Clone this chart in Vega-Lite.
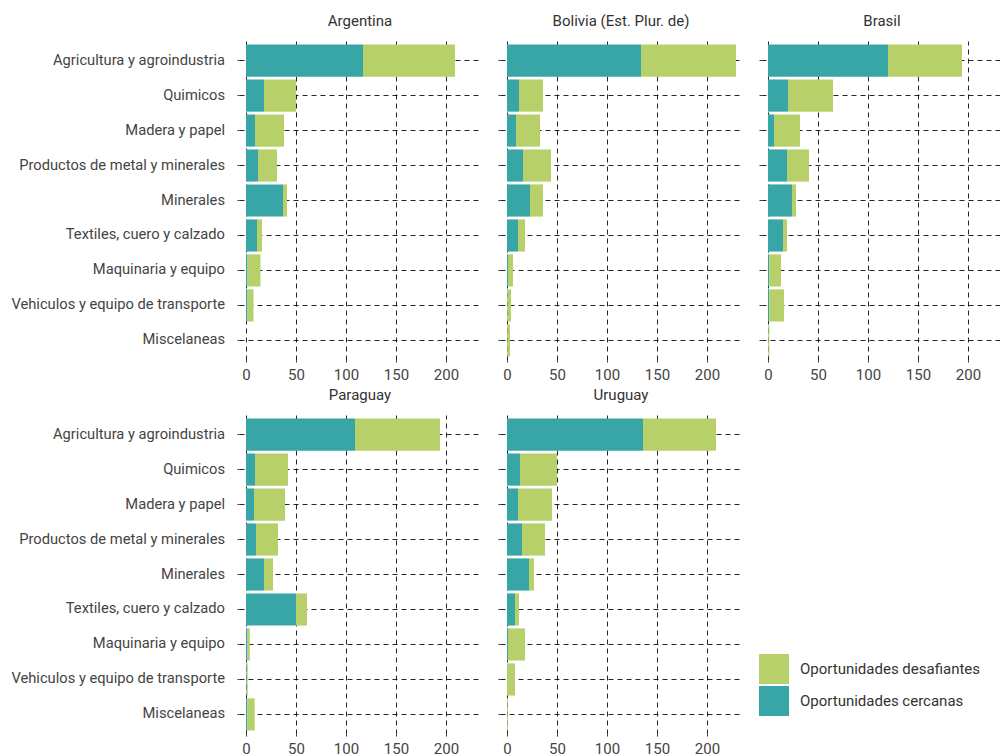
{
  "$schema": "https://vega.github.io/schema/vega-lite/v6.json",
  "padding": {"left": 10, "top": 14, "right": 0, "bottom": 0},
  "background": "white",
  "datasets": {
    "d": [
      {"pais": "Argentina", "sector": "Agricultura y agroindustria", "serie": "Oportunidades cercanas", "valor": 117},
      {"pais": "Argentina", "sector": "Agricultura y agroindustria", "serie": "Oportunidades desafiantes", "valor": 92},
      {"pais": "Argentina", "sector": "Quimicos", "serie": "Oportunidades cercanas", "valor": 18},
      {"pais": "Argentina", "sector": "Quimicos", "serie": "Oportunidades desafiantes", "valor": 32},
      {"pais": "Argentina", "sector": "Madera y papel", "serie": "Oportunidades cercanas", "valor": 9},
      {"pais": "Argentina", "sector": "Madera y papel", "serie": "Oportunidades desafiantes", "valor": 29},
      {"pais": "Argentina", "sector": "Productos de metal y minerales", "serie": "Oportunidades cercanas", "valor": 12},
      {"pais": "Argentina", "sector": "Productos de metal y minerales", "serie": "Oportunidades desafiantes", "valor": 19},
      {"pais": "Argentina", "sector": "Minerales", "serie": "Oportunidades cercanas", "valor": 37},
      {"pais": "Argentina", "sector": "Minerales", "serie": "Oportunidades desafiantes", "valor": 4},
      {"pais": "Argentina", "sector": "Textiles, cuero y calzado", "serie": "Oportunidades cercanas", "valor": 11},
      {"pais": "Argentina", "sector": "Textiles, cuero y calzado", "serie": "Oportunidades desafiantes", "valor": 5},
      {"pais": "Argentina", "sector": "Maquinaria y equipo", "serie": "Oportunidades cercanas", "valor": 1.5},
      {"pais": "Argentina", "sector": "Maquinaria y equipo", "serie": "Oportunidades desafiantes", "valor": 13},
      {"pais": "Argentina", "sector": "Vehiculos y equipo de transporte", "serie": "Oportunidades cercanas", "valor": 1.5},
      {"pais": "Argentina", "sector": "Vehiculos y equipo de transporte", "serie": "Oportunidades desafiantes", "valor": 6},
      {"pais": "Argentina", "sector": "Miscelaneas", "serie": "Oportunidades cercanas", "valor": 0},
      {"pais": "Argentina", "sector": "Miscelaneas", "serie": "Oportunidades desafiantes", "valor": 0},

      {"pais": "Bolivia", "sector": "Agricultura y agroindustria", "serie": "Oportunidades cercanas", "valor": 134},
      {"pais": "Bolivia", "sector": "Agricultura y agroindustria", "serie": "Oportunidades desafiantes", "valor": 95},
      {"pais": "Bolivia", "sector": "Quimicos", "serie": "Oportunidades cercanas", "valor": 12},
      {"pais": "Bolivia", "sector": "Quimicos", "serie": "Oportunidades desafiantes", "valor": 24},
      {"pais": "Bolivia", "sector": "Madera y papel", "serie": "Oportunidades cercanas", "valor": 9},
      {"pais": "Bolivia", "sector": "Madera y papel", "serie": "Oportunidades desafiantes", "valor": 24},
      {"pais": "Bolivia", "sector": "Productos de metal y minerales", "serie": "Oportunidades cercanas", "valor": 16},
      {"pais": "Bolivia", "sector": "Productos de metal y minerales", "serie": "Oportunidades desafiantes", "valor": 28},
      {"pais": "Bolivia", "sector": "Minerales", "serie": "Oportunidades cercanas", "valor": 23},
      {"pais": "Bolivia", "sector": "Minerales", "serie": "Oportunidades desafiantes", "valor": 13},
      {"pais": "Bolivia", "sector": "Textiles, cuero y calzado", "serie": "Oportunidades cercanas", "valor": 11},
      {"pais": "Bolivia", "sector": "Textiles, cuero y calzado", "serie": "Oportunidades desafiantes", "valor": 7},
      {"pais": "Bolivia", "sector": "Maquinaria y equipo", "serie": "Oportunidades cercanas", "valor": 1},
      {"pais": "Bolivia", "sector": "Maquinaria y equipo", "serie": "Oportunidades desafiantes", "valor": 5},
      {"pais": "Bolivia", "sector": "Vehiculos y equipo de transporte", "serie": "Oportunidades cercanas", "valor": 0.3},
      {"pais": "Bolivia", "sector": "Vehiculos y equipo de transporte", "serie": "Oportunidades desafiantes", "valor": 3.7},
      {"pais": "Bolivia", "sector": "Miscelaneas", "serie": "Oportunidades cercanas", "valor": 0.3},
      {"pais": "Bolivia", "sector": "Miscelaneas", "serie": "Oportunidades desafiantes", "valor": 2.7},

      {"pais": "Brasil", "sector": "Agricultura y agroindustria", "serie": "Oportunidades cercanas", "valor": 120},
      {"pais": "Brasil", "sector": "Agricultura y agroindustria", "serie": "Oportunidades desafiantes", "valor": 74},
      {"pais": "Brasil", "sector": "Quimicos", "serie": "Oportunidades cercanas", "valor": 20},
      {"pais": "Brasil", "sector": "Quimicos", "serie": "Oportunidades desafiantes", "valor": 45},
      {"pais": "Brasil", "sector": "Madera y papel", "serie": "Oportunidades cercanas", "valor": 6},
      {"pais": "Brasil", "sector": "Madera y papel", "serie": "Oportunidades desafiantes", "valor": 26},
      {"pais": "Brasil", "sector": "Productos de metal y minerales", "serie": "Oportunidades cercanas", "valor": 19},
      {"pais": "Brasil", "sector": "Productos de metal y minerales", "serie": "Oportunidades desafiantes", "valor": 22},
      {"pais": "Brasil", "sector": "Minerales", "serie": "Oportunidades cercanas", "valor": 24},
      {"pais": "Brasil", "sector": "Minerales", "serie": "Oportunidades desafiantes", "valor": 4},
      {"pais": "Brasil", "sector": "Textiles, cuero y calzado", "serie": "Oportunidades cercanas", "valor": 15},
      {"pais": "Brasil", "sector": "Textiles, cuero y calzado", "serie": "Oportunidades desafiantes", "valor": 4},
      {"pais": "Brasil", "sector": "Maquinaria y equipo", "serie": "Oportunidades cercanas", "valor": 1.3},
      {"pais": "Brasil", "sector": "Maquinaria y equipo", "serie": "Oportunidades desafiantes", "valor": 11.7},
      {"pais": "Brasil", "sector": "Vehiculos y equipo de transporte", "serie": "Oportunidades cercanas", "valor": 1.3},
      {"pais": "Brasil", "sector": "Vehiculos y equipo de transporte", "serie": "Oportunidades desafiantes", "valor": 14.7},
      {"pais": "Brasil", "sector": "Miscelaneas", "serie": "Oportunidades cercanas", "valor": 0.3},
      {"pais": "Brasil", "sector": "Miscelaneas", "serie": "Oportunidades desafiantes", "valor": 1},

      {"pais": "Paraguay", "sector": "Agricultura y agroindustria", "serie": "Oportunidades cercanas", "valor": 109},
      {"pais": "Paraguay", "sector": "Agricultura y agroindustria", "serie": "Oportunidades desafiantes", "valor": 85},
      {"pais": "Paraguay", "sector": "Quimicos", "serie": "Oportunidades cercanas", "valor": 9},
      {"pais": "Paraguay", "sector": "Quimicos", "serie": "Oportunidades desafiantes", "valor": 33},
      {"pais": "Paraguay", "sector": "Madera y papel", "serie": "Oportunidades cercanas", "valor": 8},
      {"pais": "Paraguay", "sector": "Madera y papel", "serie": "Oportunidades desafiantes", "valor": 31},
      {"pais": "Paraguay", "sector": "Productos de metal y minerales", "serie": "Oportunidades cercanas", "valor": 10},
      {"pais": "Paraguay", "sector": "Productos de metal y minerales", "serie": "Oportunidades desafiantes", "valor": 22},
      {"pais": "Paraguay", "sector": "Minerales", "serie": "Oportunidades cercanas", "valor": 18},
      {"pais": "Paraguay", "sector": "Minerales", "serie": "Oportunidades desafiantes", "valor": 9},
      {"pais": "Paraguay", "sector": "Textiles, cuero y calzado", "serie": "Oportunidades cercanas", "valor": 50},
      {"pais": "Paraguay", "sector": "Textiles, cuero y calzado", "serie": "Oportunidades desafiantes", "valor": 11},
      {"pais": "Paraguay", "sector": "Maquinaria y equipo", "serie": "Oportunidades cercanas", "valor": 1.5},
      {"pais": "Paraguay", "sector": "Maquinaria y equipo", "serie": "Oportunidades desafiantes", "valor": 2.3},
      {"pais": "Paraguay", "sector": "Vehiculos y equipo de transporte", "serie": "Oportunidades cercanas", "valor": 0.7},
      {"pais": "Paraguay", "sector": "Vehiculos y equipo de transporte", "serie": "Oportunidades desafiantes", "valor": 1},
      {"pais": "Paraguay", "sector": "Miscelaneas", "serie": "Oportunidades cercanas", "valor": 1.4},
      {"pais": "Paraguay", "sector": "Miscelaneas", "serie": "Oportunidades desafiantes", "valor": 7.3},

      {"pais": "Uruguay", "sector": "Agricultura y agroindustria", "serie": "Oportunidades cercanas", "valor": 136},
      {"pais": "Uruguay", "sector": "Agricultura y agroindustria", "serie": "Oportunidades desafiantes", "valor": 73},
      {"pais": "Uruguay", "sector": "Quimicos", "serie": "Oportunidades cercanas", "valor": 13},
      {"pais": "Uruguay", "sector": "Quimicos", "serie": "Oportunidades desafiantes", "valor": 37},
      {"pais": "Uruguay", "sector": "Madera y papel", "serie": "Oportunidades cercanas", "valor": 11},
      {"pais": "Uruguay", "sector": "Madera y papel", "serie": "Oportunidades desafiantes", "valor": 34},
      {"pais": "Uruguay", "sector": "Productos de metal y minerales", "serie": "Oportunidades cercanas", "valor": 15},
      {"pais": "Uruguay", "sector": "Productos de metal y minerales", "serie": "Oportunidades desafiantes", "valor": 23},
      {"pais": "Uruguay", "sector": "Minerales", "serie": "Oportunidades cercanas", "valor": 22},
      {"pais": "Uruguay", "sector": "Minerales", "serie": "Oportunidades desafiantes", "valor": 5},
      {"pais": "Uruguay", "sector": "Textiles, cuero y calzado", "serie": "Oportunidades cercanas", "valor": 8},
      {"pais": "Uruguay", "sector": "Textiles, cuero y calzado", "serie": "Oportunidades desafiantes", "valor": 4},
      {"pais": "Uruguay", "sector": "Maquinaria y equipo", "serie": "Oportunidades cercanas", "valor": 1},
      {"pais": "Uruguay", "sector": "Maquinaria y equipo", "serie": "Oportunidades desafiantes", "valor": 17},
      {"pais": "Uruguay", "sector": "Vehiculos y equipo de transporte", "serie": "Oportunidades cercanas", "valor": 0},
      {"pais": "Uruguay", "sector": "Vehiculos y equipo de transporte", "serie": "Oportunidades desafiantes", "valor": 8},
      {"pais": "Uruguay", "sector": "Miscelaneas", "serie": "Oportunidades cercanas", "valor": 0.3},
      {"pais": "Uruguay", "sector": "Miscelaneas", "serie": "Oportunidades desafiantes", "valor": 0.7}
    ]
  },
  "vconcat": [
    {
      "hconcat": [
        {
          "width": 242, "height": 319,
          "title": "Argentina",
          "data": {"name": "d"},
          "transform": [{"filter": "datum.pais == 'Argentina'"}],
          "mark": "bar",
          "encoding": {
            "y": {"field": "sector", "type": "nominal", "title": null, "sort": ["Agricultura y agroindustria", "Quimicos", "Madera y papel", "Productos de metal y minerales", "Minerales", "Textiles, cuero y calzado", "Maquinaria y equipo", "Vehiculos y equipo de transporte", "Miscelaneas"], "scale": {"paddingInner": 0.08, "paddingOuter": 0.1}, "axis": {"labels": true}},
            "x": {"field": "valor", "type": "quantitative", "title": null, "scale": {"domain": [-7, 235], "nice": false}},
            "color": {"field": "serie", "type": "nominal", "title": null, "scale": {"domain": ["Oportunidades desafiantes", "Oportunidades cercanas"], "range": ["#B8D06A", "#38A5A7"]}},
            "order": {"field": "serie", "sort": "ascending"}
          }
        },
        {
          "width": 242, "height": 319,
          "title": "Bolivia (Est. Plur. de)",
          "data": {"name": "d"},
          "transform": [{"filter": "datum.pais == 'Bolivia'"}],
          "mark": "bar",
          "encoding": {
            "y": {"field": "sector", "type": "nominal", "title": null, "sort": ["Agricultura y agroindustria", "Quimicos", "Madera y papel", "Productos de metal y minerales", "Minerales", "Textiles, cuero y calzado", "Maquinaria y equipo", "Vehiculos y equipo de transporte", "Miscelaneas"], "scale": {"paddingInner": 0.08, "paddingOuter": 0.1}, "axis": {"labels": false}},
            "x": {"field": "valor", "type": "quantitative", "title": null, "scale": {"domain": [-7, 235], "nice": false}},
            "color": {"field": "serie", "type": "nominal", "title": null, "scale": {"domain": ["Oportunidades desafiantes", "Oportunidades cercanas"], "range": ["#B8D06A", "#38A5A7"]}},
            "order": {"field": "serie", "sort": "ascending"}
          }
        },
        {
          "width": 242, "height": 319,
          "title": "Brasil",
          "data": {"name": "d"},
          "transform": [{"filter": "datum.pais == 'Brasil'"}],
          "mark": "bar",
          "encoding": {
            "y": {"field": "sector", "type": "nominal", "title": null, "sort": ["Agricultura y agroindustria", "Quimicos", "Madera y papel", "Productos de metal y minerales", "Minerales", "Textiles, cuero y calzado", "Maquinaria y equipo", "Vehiculos y equipo de transporte", "Miscelaneas"], "scale": {"paddingInner": 0.08, "paddingOuter": 0.1}, "axis": {"labels": false}},
            "x": {"field": "valor", "type": "quantitative", "title": null, "scale": {"domain": [-7, 235], "nice": false}},
            "color": {"field": "serie", "type": "nominal", "title": null, "scale": {"domain": ["Oportunidades desafiantes", "Oportunidades cercanas"], "range": ["#B8D06A", "#38A5A7"]}},
            "order": {"field": "serie", "sort": "ascending"}
          }
        }
      ]
    },
    {
      "hconcat": [
        {
          "width": 242, "height": 319,
          "title": "Paraguay",
          "data": {"name": "d"},
          "transform": [{"filter": "datum.pais == 'Paraguay'"}],
          "mark": "bar",
          "encoding": {
            "y": {"field": "sector", "type": "nominal", "title": null, "sort": ["Agricultura y agroindustria", "Quimicos", "Madera y papel", "Productos de metal y minerales", "Minerales", "Textiles, cuero y calzado", "Maquinaria y equipo", "Vehiculos y equipo de transporte", "Miscelaneas"], "scale": {"paddingInner": 0.08, "paddingOuter": 0.1}, "axis": {"labels": true}},
            "x": {"field": "valor", "type": "quantitative", "title": null, "scale": {"domain": [-7, 235], "nice": false}},
            "color": {"field": "serie", "type": "nominal", "title": null, "scale": {"domain": ["Oportunidades desafiantes", "Oportunidades cercanas"], "range": ["#B8D06A", "#38A5A7"]}},
            "order": {"field": "serie", "sort": "ascending"}
          }
        },
        {
          "width": 242, "height": 319,
          "title": "Uruguay",
          "data": {"name": "d"},
          "transform": [{"filter": "datum.pais == 'Uruguay'"}],
          "mark": "bar",
          "encoding": {
            "y": {"field": "sector", "type": "nominal", "title": null, "sort": ["Agricultura y agroindustria", "Quimicos", "Madera y papel", "Productos de metal y minerales", "Minerales", "Textiles, cuero y calzado", "Maquinaria y equipo", "Vehiculos y equipo de transporte", "Miscelaneas"], "scale": {"paddingInner": 0.08, "paddingOuter": 0.1}, "axis": {"labels": false}},
            "x": {"field": "valor", "type": "quantitative", "title": null, "scale": {"domain": [-7, 235], "nice": false}},
            "color": {"field": "serie", "type": "nominal", "title": null, "scale": {"domain": ["Oportunidades desafiantes", "Oportunidades cercanas"], "range": ["#B8D06A", "#38A5A7"]}},
            "order": {"field": "serie", "sort": "ascending"}
          }
        }
      ]
    }
  ],
  "spacing": 6,
  "config": {
    "font": "Roboto",
    "view": {"stroke": null},
    "concat": {"spacing": 14},
    "title": {"fontSize": 15, "fontWeight": "normal", "color": "#333333", "offset": 12, "font": "Roboto"},
    "axis": {
      "domain": false,
      "grid": true,
      "gridColor": "#000000",
      "gridOpacity": 0.85,
      "gridDash": [5, 4],
      "gridWidth": 1,
      "tickColor": "#333333",
      "tickSize": 4,
      "tickDash": [2, 2],
      "labelFont": "Roboto",
      "labelFontSize": 14.7,
      "labelColor": "#444444",
      "labelLimit": 0
    },
    "axisY": {"bandPosition": 0.5, "labelPadding": 10.5},
    "axisX": {"values": [0, 25, 50, 75, 100, 125, 150, 175, 200, 225], "labelExpr": "datum.value % 50 == 0 ? datum.label : ''", "labelPadding": 3, "labelFontSize": 15},
    "legend": {
      "orient": "none",
      "legendX": 520,
      "legendY": 613,
      "symbolType": "square",
      "symbolSize": 900,
      "symbolStrokeWidth": 0,
      "symbolOpacity": 1,
      "rowPadding": 2,
      "labelFontSize": 15,
      "labelFont": "Roboto",
      "labelColor": "#333333",
      "labelOffset": 11,
      "labelLimit": 0
    },
    "bar": {"stroke": null}
  }
}
